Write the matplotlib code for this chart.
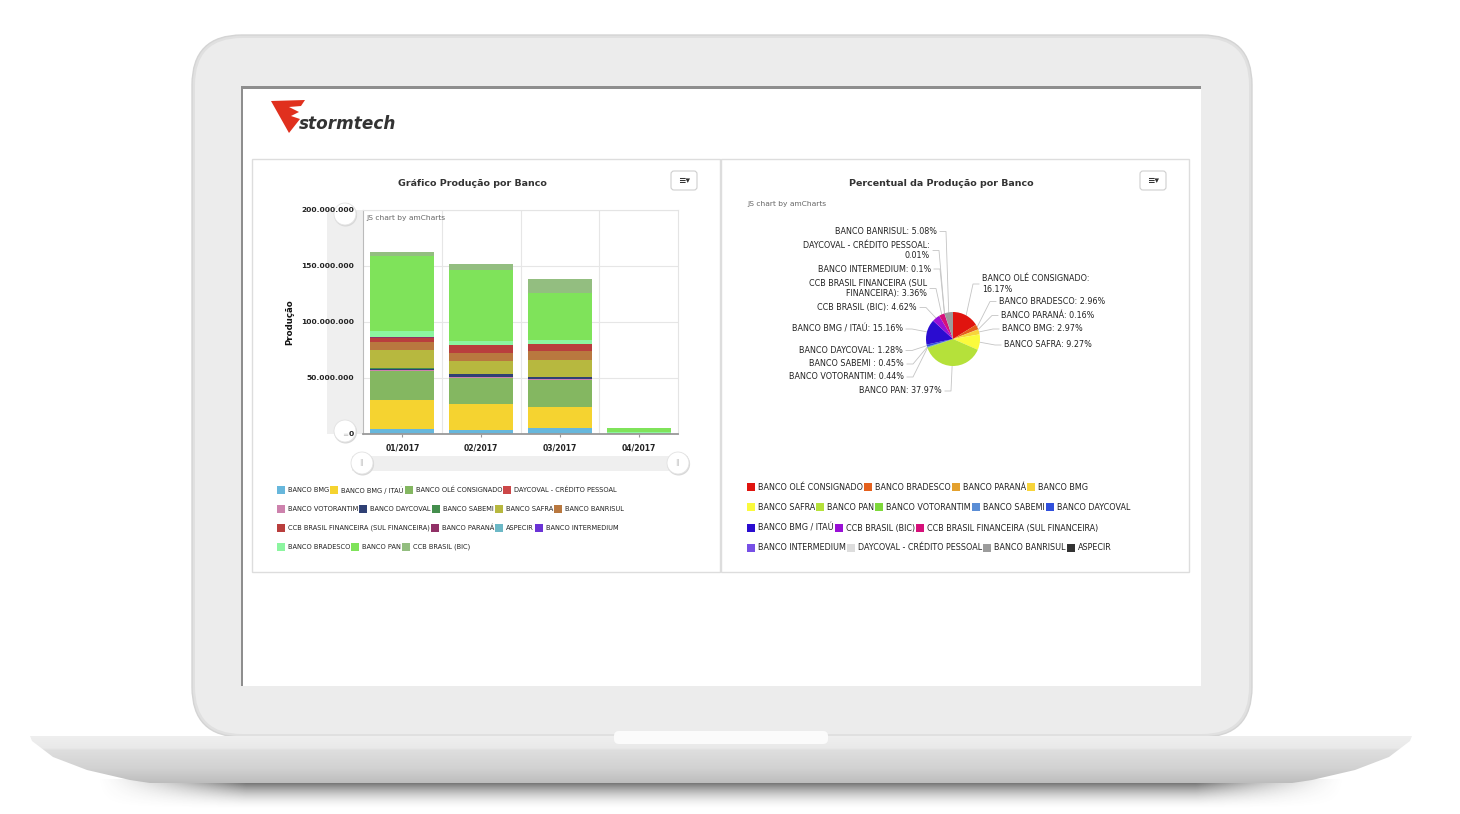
import matplotlib
matplotlib.use('Agg')
import matplotlib.pyplot as plt
import numpy as np
from matplotlib.patches import Rectangle, FancyBboxPatch, Polygon, Circle
from matplotlib.colors import to_rgb

plt.rcParams['font.family'] = ['DejaVu Sans']

# dados do grafico de barras (producao em milhoes)
meses = ['01/2017', '02/2017', '03/2017', '04/2017']
bancos_barra = ['BANCO BMG', 'BANCO BMG / ITAÚ', 'BANCO OLÉ CONSIGNADO',
                'DAYCOVAL - CRÉDITO PESSOAL', 'BANCO VOTORANTIM', 'BANCO DAYCOVAL',
                'BANCO SABEMI', 'BANCO SAFRA', 'BANCO BANRISUL',
                'CCB BRASIL FINANCEIRA (SUL FINANCEIRA)', 'BANCO PARANÁ', 'ASPECIR',
                'BANCO INTERMEDIUM', 'BANCO BRADESCO', 'BANCO PAN', 'CCB BRASIL (BIC)']
bmg = [4.3, 3.9, 5.4, 0.1]
bmg_itau = [26.5, 23.0, 18.8, 0.1]
ole = [25.3, 23.0, 24.1, 0.0]
daycoval_cp = [0.05, 0.0, 0.0, 0.0]
votorantim = [0.9, 1.0, 0.9, 0.0]
daycoval = [1.2, 2.4, 1.8, 0.0]
sabemi = [0.5, 0.3, 0.3, 0.0]
safra = [16.4, 12.0, 14.9, 0.3]
banrisul = [7.4, 7.1, 8.3, 0.7]
ccb_fin = [3.6, 6.8, 5.7, 0.0]
parana = [0.3, 0.3, 0.3, 0.0]
aspecir = [0.0, 0.0, 0.0, 0.0]
intermedium = [0.2, 0.1, 0.1, 0.0]
bradesco = [5.4, 3.3, 3.6, 0.8]
pan = [67.0, 63.0, 41.7, 3.4]
ccb_bic = [3.6, 5.7, 12.5, 0.0]
series = [bmg, bmg_itau, ole, daycoval_cp, votorantim, daycoval, sabemi, safra,
          banrisul, ccb_fin, parana, aspecir, intermedium, bradesco, pan, ccb_bic]
cores_barra = ['#67b7dc', '#f5d330', '#84b761', '#cc4748', '#cd82ad', '#2f4074',
               '#448e4d', '#b7b83f', '#b9783f', '#b93e3d', '#913167', '#6cb8c6',
               '#6b33d6', '#8cf5a0', '#7fe35a', '#93be80']
yticks_mi = [0, 50, 100, 150, 200]

# dados do grafico de pizza (percentual)
bancos_pizza = ['BANCO OLÉ CONSIGNADO', 'BANCO BRADESCO', 'BANCO PARANÁ', 'BANCO BMG',
                'BANCO SAFRA', 'BANCO PAN', 'BANCO VOTORANTIM', 'BANCO SABEMI ',
                'BANCO DAYCOVAL', 'BANCO BMG / ITAÚ', 'CCB BRASIL (BIC)',
                'CCB BRASIL FINANCEIRA (SUL FINANCEIRA)', 'BANCO INTERMEDIUM',
                'DAYCOVAL - CRÉDITO PESSOAL', 'BANCO BANRISUL', 'ASPECIR']
percentual = [16.17, 2.96, 0.16, 2.97, 9.27, 37.97, 0.44, 0.45, 1.28, 15.16,
              4.62, 3.36, 0.1, 0.01, 5.08, 0.0]
cores_pizza = ['#e0140f', '#e5601c', '#e4a12e', '#f7d43a', '#fafa3c', '#b5e13a',
               '#7dd83a', '#5b8ed6', '#3150dc', '#2a0cd0', '#9a10d6', '#d6107a',
               '#7750e6', '#dddddd', '#9c9c9c', '#333333']
# posicao dos rotulos (pixels da imagem): x, y, alinhamento
pos_rotulos = [(982, 284, 'left'), (999, 301.5, 'left'), (1001, 315.5, 'left'),
               (1002, 329, 'left'), (1004, 345, 'left'), (942, 391, 'right'),
               (904, 377, 'right'), (904, 364, 'right'), (903, 350.5, 'right'),
               (903, 329, 'right'), (917, 307.5, 'right'), (927, 288.5, 'right'),
               (931, 269, 'right'), (930, 250.5, 'right'), (937, 231.5, 'right'), None]
quebras = {'BANCO OLÉ CONSIGNADO': 'BANCO OLÉ CONSIGNADO:\n',
           'CCB BRASIL FINANCEIRA (SUL FINANCEIRA)': 'CCB BRASIL FINANCEIRA (SUL\nFINANCEIRA): ',
           'DAYCOVAL - CRÉDITO PESSOAL': 'DAYCOVAL - CRÉDITO PESSOAL:\n'}

W, H = 1460, 814
fig = plt.figure(figsize=(W / 100, H / 100), dpi=100)
bg = fig.add_axes([0, 0, 1, 1])
bg.set_xlim(0, W)
bg.set_ylim(H, 0)
bg.axis('off')

# ---- notebook ----
# sombra da base
sw, sh = 600, 40
xs = np.linspace(0, 1, sw)
ys = np.linspace(0, 1, sh)
hx = np.clip(np.minimum(xs, 1 - xs) / 0.12, 0, 1) ** 1.5
vy = (1 - ys) ** 1.8
sombra = np.zeros((sh, sw, 4))
sombra[..., :3] = 0.28
sombra[..., 3] = 0.95 * vy[:, None] * hx[None, :]
bg.imshow(sombra, extent=(95, 1347, 810, 779), aspect='auto', zorder=1,
          interpolation='bilinear')

# tampa
bg.add_patch(FancyBboxPatch((192, 35), 1060, 702, boxstyle='round,pad=0,rounding_size=50',
                            fc='#e0e0e0', ec='#d4d4d4', lw=1, zorder=2))
bg.add_patch(FancyBboxPatch((195, 38), 1054, 696, boxstyle='round,pad=0,rounding_size=47',
                            fc='#ececec', ec='none', zorder=2))
# tela
bg.add_patch(Rectangle((241, 86), 960, 600, fc='white', ec='none', zorder=2))
bg.add_patch(Rectangle((241, 86), 960, 3, fc='#8e8e8e', ec='none', zorder=2))
bg.add_patch(Rectangle((241, 86), 2, 600, fc='#8e8e8e', ec='none', zorder=2))

# base
lado_esq = [(30, 736), (32, 741), (53, 757), (87, 770), (130, 780), (150, 783)]
base_pts = lado_esq + [(W - 18 - px, py) for px, py in reversed(lado_esq)]
base = Polygon(base_pts, closed=True, fc='none', ec='none', zorder=3)
bg.add_patch(base)
stops_y = [736, 748, 750, 768, 783]
stops_c = ['#efefef', '#e9e9e9', '#dedede', '#d2d2d2', '#bdbdbd']
gy = np.linspace(736, 783, 120)
grad = np.zeros((120, 1, 3))
for k in range(3):
    grad[:, 0, k] = np.interp(gy, stops_y, [to_rgb(c)[k] for c in stops_c])
im = bg.imshow(grad, extent=(30, 1412, 783, 736), aspect='auto', zorder=3)
im.set_clip_path(base)
bg.add_patch(FancyBboxPatch((614, 731), 214, 13, boxstyle='round,pad=0,rounding_size=5',
                            fc='#fbfbfb', ec='none', zorder=4))
bg.add_patch(Rectangle((614, 735.5), 214, 0.8, fc='#e6e6e6', ec='none', zorder=4))

# ---- logo ----
logo = [(271, 101), (305, 100), (301, 106), (289, 107), (299, 112), (291, 116),
        (300, 119), (289, 133)]
bg.add_patch(Polygon(logo, closed=True, fc='#e0301e', ec='none', zorder=5))
bg.text(299, 124, 'stormtech', fontsize=12.2, fontweight='bold', fontstyle='italic',
        color='#333333', va='center', ha='left', zorder=5)

# ---- paineis ----
for x0 in (252, 721):
    bg.add_patch(Rectangle((x0, 159), 468, 413, fc='white', ec='#dddddd', lw=1, zorder=4))
for bx in (671, 1140):
    bg.add_patch(FancyBboxPatch((bx, 171), 26, 19, boxstyle='round,pad=0,rounding_size=3',
                                fc='white', ec='#cfcfcf', lw=0.8, zorder=5))
    bg.text(bx + 13, 180.5, '≡▾', fontsize=6.5, fontweight='bold', color='#333333',
            ha='center', va='center', zorder=6)

bg.text(472, 183, 'Gráfico Produção por Banco', fontsize=6.8, fontweight='bold',
        color='#333333', ha='center', va='center', zorder=6)
bg.text(941, 183, 'Percentual da Produção por Banco', fontsize=6.8, fontweight='bold',
        color='#333333', ha='center', va='center', zorder=6)
bg.text(747, 204, 'JS chart by amCharts', fontsize=5.4, color='#666666',
        ha='left', va='center', zorder=6)
bg.text(290, 322, 'Produção', fontsize=6.2, fontweight='bold', color='#111111',
        rotation=90, ha='center', va='center', zorder=6)

# barras de rolagem
bg.add_patch(Rectangle((327, 210), 36, 224, fc='#efefef', ec='none', zorder=5))
bg.add_patch(Rectangle((352, 456), 336, 15, fc='#efefef', ec='none', zorder=5))
for cx, cy in [(345, 214), (345, 431), (362, 463), (678, 463)]:
    bg.add_patch(Circle((cx + 0.6, cy + 1), 11.5, fc='#d8d8d8', ec='none', zorder=6))
    bg.add_patch(Circle((cx, cy), 11, fc='white', ec='#e2e2e2', lw=0.6, zorder=6))
bg.text(362, 463, '||', fontsize=5, color='#bbbbbb', ha='center', va='center', zorder=7)
bg.text(678, 463, '||', fontsize=5, color='#bbbbbb', ha='center', va='center', zorder=7)
bg.text(345, 434, '═', fontsize=5, color='#bbbbbb', ha='center', va='center', zorder=7)

# ---- legendas ----
renderer = fig.canvas.get_renderer()


def legenda(nomes, cores, x0, linhas_y, contagem, fs, lado):
    i = 0
    for y, n in zip(linhas_y, contagem):
        x = x0
        for _ in range(n):
            bg.add_patch(Rectangle((x, y - lado / 2), lado, lado, fc=cores[i], ec='none',
                                   zorder=6))
            t = bg.text(x + lado + 3, y, nomes[i], fontsize=fs, color='#222222',
                        ha='left', va='center', zorder=6)
            x = x + lado + 3 + t.get_window_extent(renderer).width + 1
            i += 1


legenda(bancos_barra, cores_barra, 277, [490, 509, 528, 547], [4, 5, 4, 3], 4.8, 8)
legenda([b.strip() for b in bancos_pizza], cores_pizza, 747, [487, 507, 528, 548],
        [4, 5, 3, 4], 5.8, 8)

# ---- grafico de barras ----
axb = fig.add_axes([363 / W, 1 - 434 / H, 315 / W, 224 / H])
x = np.arange(len(meses))
base_acum = np.zeros(len(meses))
for serie, cor, nome in zip(series, cores_barra, bancos_barra):
    axb.bar(x, serie, width=0.81, bottom=base_acum, color=cor, edgecolor='none', label=nome)
    base_acum += np.array(serie)
axb.set_xlim(-0.5, len(meses) - 0.5)
axb.set_ylim(0, 200)
axb.set_xticks(x)
axb.set_xticklabels(meses, fontsize=5.5, fontweight='bold', color='#222222')
axb.set_yticks(yticks_mi)
axb.set_yticklabels([f'{int(v * 1e6):,}'.replace(',', '.') for v in yticks_mi],
                    fontsize=5.4, fontweight='bold', color='#222222')
axb.set_xticks([0.5, 1.5, 2.5], minor=True)
axb.tick_params(axis='x', which='major', length=2.5, color='#999999', pad=4)
axb.tick_params(axis='x', which='minor', length=0)
axb.tick_params(axis='y', length=0, pad=6.5)
axb.grid(True, axis='y', color='#e6e6e6', lw=0.8)
axb.grid(True, axis='x', which='minor', color='#e6e6e6', lw=0.8)
axb.set_axisbelow(True)
axb.set_facecolor('none')
for s in ('top', 'right'):
    axb.spines[s].set_color('#e4e4e4')
    axb.spines[s].set_linewidth(0.8)
axb.spines['left'].set_color('#bbbbbb')
axb.spines['left'].set_linewidth(0.8)
axb.spines['bottom'].set_color('#999999')
axb.spines['bottom'].set_linewidth(1.3)
axb.text(0.01, 0.965, 'JS chart by amCharts', transform=axb.transAxes, fontsize=5.4,
         color='#666666', ha='left', va='center')

# ---- grafico de pizza ----
axp = fig.add_axes([735 / W, 1 - 405 / H, 450 / W, 200 / H])
cx, cy, r = 953, H - 339, 27
wedges, _ = axp.pie(percentual, colors=cores_pizza, startangle=90, counterclock=False,
                    center=(cx, cy), radius=r, wedgeprops=dict(linewidth=0))
for w, nome, p, pos in zip(wedges, bancos_pizza, percentual, pos_rotulos):
    if pos is None:
        continue
    lx, ly, ha = pos
    ly = H - ly
    txt = quebras.get(nome, nome + ': ') + f'{p:g}%'
    axp.text(lx, ly, txt, fontsize=5.8, color='#222222', ha=ha, va='center',
             multialignment=ha)
    ang = np.deg2rad((w.theta1 + w.theta2) / 2)
    ex, ey = cx + r * np.cos(ang), cy + r * np.sin(ang)
    d = 1 if ha == 'right' else -1
    axp.plot([lx + 3 * d, lx + 9 * d, ex], [ly, ly, ey], color='#c4c4c4', lw=0.6,
             zorder=0)
axp.set_xlim(735, 1185)
axp.set_ylim(H - 405, H - 205)
axp.set_aspect('equal')
axp.axis('off')

bg.set_xlim(0, W)
bg.set_ylim(H, 0)
fig.savefig('out.png', dpi=100, facecolor='white')
